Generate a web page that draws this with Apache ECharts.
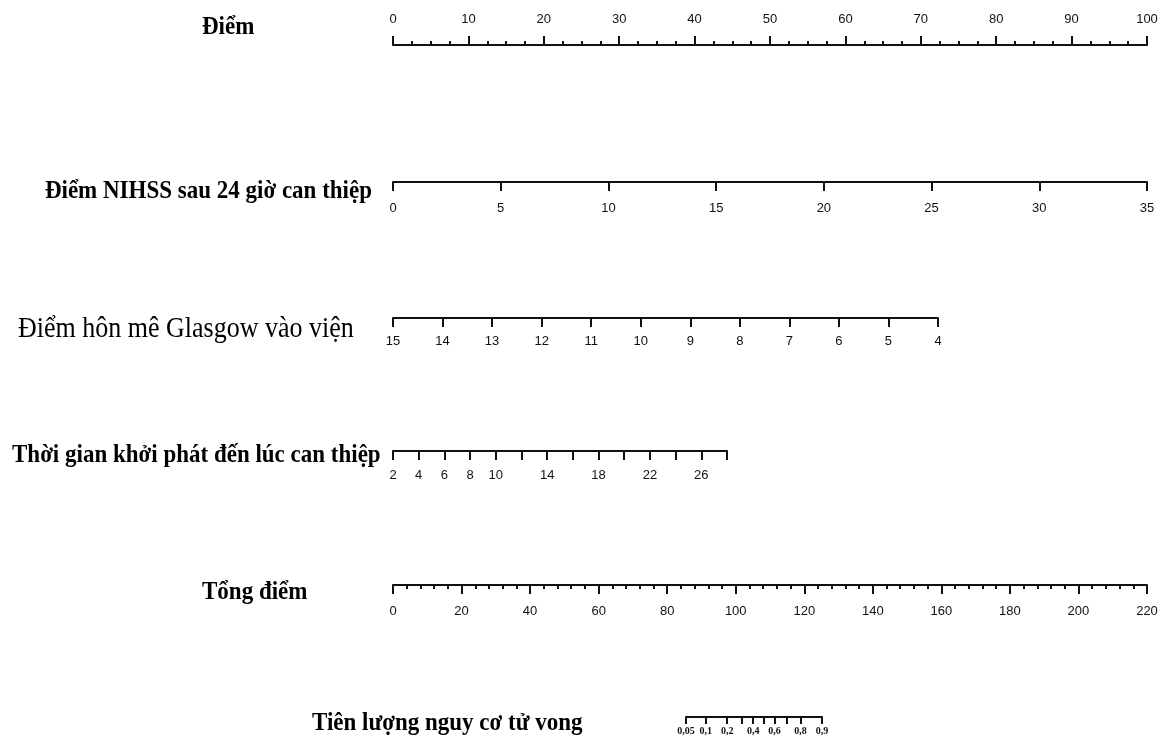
<!DOCTYPE html>
<html>
<head>
<meta charset="utf-8">
<script src="https://cdn.jsdelivr.net/npm/echarts@6/dist/echarts.min.js"></script>
<style>html,body{margin:0;padding:0;background:#fff}#c{width:1169px;height:742px}</style>
</head>
<body>
<div id="c"></div>
<script>
// Row names
const rowNames = ['Điểm', 'Điểm NIHSS sau 24 giờ can thiệp', 'Điểm hôn mê Glasgow vào viện',
  'Thời gian khởi phát đến lúc can thiệp', 'Tổng điểm', 'Tiên lượng nguy cơ tử vong'];
// Axis ranges [min, max, interval]
const pointsRange = [0, 100, 10];
const nihssRange = [0, 35, 5];
const glasgowRange = [4, 15, 1];
const timeRange = [2, 28, 2];
const totalRange = [0, 220, 20];
// Tick labels shown on the time axis
const timeLabels = [2, 4, 6, 8, 10, 14, 18, 22, 26];
// Probability axis ticks and labels
const probTicks = [0.05, 0.1, 0.2, 0.3, 0.4, 0.5, 0.6, 0.7, 0.8, 0.9];
const probLabels = [0.05, 0.1, 0.2, 0.4, 0.6, 0.8, 0.9];

const logit = p => Math.log(p / (1 - p));
const invLogit = v => 1 / (1 + Math.exp(-v));

const AX = '#111';
const labelFont = {fontFamily: "'Liberation Sans Narrow', 'Liberation Sans', Arial, sans-serif", fontSize: 13, color: '#111'};

function axis(gridIndex, range, opts) {
  const a = {
    type: 'value', gridIndex: gridIndex,
    min: range[0], max: range[1], interval: range[2],
    position: 'bottom',
    splitLine: {show: false},
    axisLine: {show: true, onZero: false, lineStyle: {color: AX, width: 2}},
    axisTick: {show: true, length: 9, lineStyle: {color: AX, width: 2}},
    axisLabel: Object.assign({show: true, margin: 20, hideOverlap: false, showMinLabel: true, showMaxLabel: true}, labelFont)
  };
  return Object.assign(a, opts || {});
}

const grids = [
  {left: 393, width: 754, top: 45, height: 10},
  {left: 393, width: 754, top: 172, height: 10},
  {left: 393, width: 545, top: 308, height: 10},
  {left: 393, width: 334, top: 441, height: 10},
  {left: 393, width: 754, top: 575, height: 10},
  {left: 686, width: 136, top: 707, height: 10}
];

const xAxes = [
  axis(0, pointsRange, {
    position: 'top',
    minorTick: {show: true, splitNumber: 4, length: 4, lineStyle: {color: AX, width: 2}},
    axisLabel: Object.assign({margin: 19, showMinLabel: true, showMaxLabel: true}, labelFont)
  }),
  axis(1, nihssRange),
  axis(2, glasgowRange, {inverse: true,
    axisLabel: Object.assign({margin: 17, showMinLabel: true, showMaxLabel: true}, labelFont)}),
  axis(3, timeRange, {
    axisLabel: Object.assign({margin: 18, showMinLabel: true, showMaxLabel: true,
      formatter: v => timeLabels.indexOf(v) >= 0 ? String(v) : ''}, labelFont)
  }),
  axis(4, totalRange, {
    minorTick: {show: true, splitNumber: 5, length: 4, lineStyle: {color: AX, width: 2}}
  }),
  {
    type: 'value', gridIndex: 5,
    min: logit(probTicks[0]), max: logit(probTicks[probTicks.length - 1]),
    position: 'bottom',
    splitLine: {show: false},
    axisLine: {show: true, onZero: false, lineStyle: {color: AX, width: 2}},
    axisTick: {show: true, length: 7, lineStyle: {color: AX, width: 2}, customValues: probTicks.map(logit)},
    axisLabel: {show: true, margin: 9, customValues: probLabels.map(logit), hideOverlap: false,
      fontFamily: "'Liberation Serif', 'Times New Roman', serif", fontWeight: 'bold', fontSize: 10, color: '#111',
      formatter: v => String(Math.round(invLogit(v) * 100) / 100).replace('.', ',')}
  }
];

const yAxes = grids.map((g, i) => ({type: 'value', gridIndex: i, show: false, min: 0, max: 1}));

const series = grids.map((g, i) => ({type: 'scatter', xAxisIndex: i, yAxisIndex: i, data: [], silent: true}));

const serif = "'Liberation Serif', 'Times New Roman', serif";
const bold = {fontFamily: serif, fontWeight: 'bold', fontSize: 23, fill: '#000'};
const titleSpecs = [
  {x: 202, y: 27, align: 'left', s: bold},
  {x: 372, y: 191, align: 'right', s: bold},
  {x: 18, y: 329, align: 'left', s: {fontFamily: serif, fontWeight: 'normal', fontSize: 26, fill: '#000'}},
  {x: 12, y: 455, align: 'left', s: bold},
  {x: 202, y: 592, align: 'left', s: bold},
  {x: 312, y: 723, align: 'left', s: bold}
];
const graphic = rowNames.map((name, i) => ({
  type: 'text',
  x: titleSpecs[i].x, y: titleSpecs[i].y,
  scaleY: 1.12,
  style: Object.assign({text: name, textAlign: titleSpecs[i].align, textVerticalAlign: 'middle'}, titleSpecs[i].s)
}));

const chart = echarts.init(document.getElementById('c'), null, {renderer: 'canvas'});
chart.setOption({
  animation: false,
  backgroundColor: '#fff',
  grid: grids,
  xAxis: xAxes,
  yAxis: yAxes,
  series: series,
  graphic: graphic
});
</script>
</body>
</html>
